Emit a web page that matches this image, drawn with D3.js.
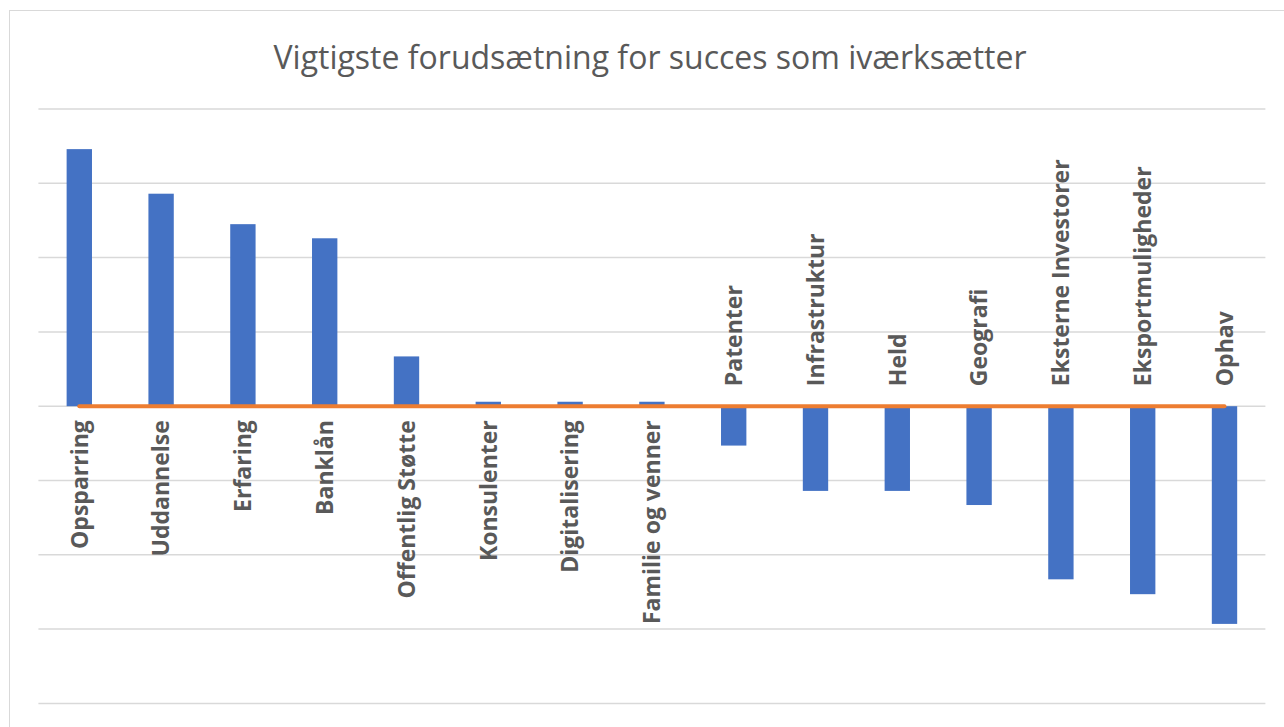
<!DOCTYPE html>
<html>
<head>
<meta charset="utf-8">
<script src="https://cdnjs.cloudflare.com/ajax/libs/d3/7.8.5/d3.min.js"></script>
<style>
  body { margin: 0; background: #fff; }
  svg { display: block; }
</style>
</head>
<body>
<svg id="chart" width="1284" height="727"></svg>
<script>
// data (units = gridline steps)
var categories = ['Opsparring', 'Uddannelse', 'Erfaring', 'Banklån', 'Offentlig Støtte',
  'Konsulenter', 'Digitalisering', 'Familie og venner', 'Patenter', 'Infrastruktur',
  'Held', 'Geografi', 'Eksterne Investorer', 'Eksportmuligheder', 'Ophav'];
var values = [3.46, 2.86, 2.45, 2.26, 0.67, 0.06, 0.06, 0.06, -0.53, -1.14, -1.14, -1.33, -2.33, -2.53, -2.93];
var baseline = [0, 0, 0, 0, 0, 0, 0, 0, 0, 0, 0, 0, 0, 0, 0];
var gridTicks = [4, 3, 2, 1, 0, -1, -2, -3, -4];
var title = 'Vigtigste forudsætning for succes som iværksætter';

var svg = d3.select('#chart');
var barColor = '#4472C4', lineColor = '#ED7D31', textColor = '#595959', gridColor = '#d9d9d9';

// chart frame
svg.append('rect')
  .attr('x', 9.5).attr('y', 10.5)
  .attr('width', 1300).attr('height', 740)
  .attr('fill', '#fff').attr('stroke', gridColor).attr('stroke-width', 1);

var x = d3.scaleBand().domain(categories).range([38.4, 1265.4]).paddingInner(0.69).paddingOuter(0.345);
var y = d3.scaleLinear().domain([-4, 4]).range([703.4, 109]);

// gridlines
svg.append('g').attr('class', 'grid')
  .selectAll('line').data(gridTicks).enter()
  .append('line')
  .attr('x1', 38.4).attr('x2', 1265.4)
  .attr('y1', function(d) { return y(d); })
  .attr('y2', function(d) { return y(d); })
  .attr('stroke', gridColor).attr('stroke-width', 1.5);

// title
svg.append('text')
  .attr('x', 650).attr('y', 69)
  .attr('text-anchor', 'middle')
  .attr('fill', textColor)
  .attr('style', 'font-family: "Open Sans"; font-size: 32px;')
  .text(title);

// bars
svg.append('g').attr('class', 'bars')
  .selectAll('rect').data(values).enter()
  .append('rect')
  .attr('x', function(d, i) { return x(categories[i]); })
  .attr('width', x.bandwidth())
  .attr('y', function(d) { return y(Math.max(0, d)); })
  .attr('height', function(d) { return Math.abs(y(d) - y(0)); })
  .attr('fill', barColor);

// zero line series
var line = d3.line()
  .x(function(d, i) { return x(categories[i]) + x.bandwidth() / 2; })
  .y(function(d) { return y(d); });

svg.append('path')
  .datum(baseline)
  .attr('d', line)
  .attr('fill', 'none')
  .attr('stroke', lineColor)
  .attr('stroke-width', 4)
  .attr('stroke-linecap', 'round');

// category labels, rotated, placed on the opposite side of the bar
svg.append('g').attr('class', 'labels')
  .selectAll('text').data(categories).enter()
  .append('text')
  .attr('transform', function(d, i) {
    var cx = x(d) + x.bandwidth() / 2;
    var cy = values[i] >= 0 ? y(0) + 14 : y(0) - 20;
    return 'translate(' + cx + ',' + cy + ') rotate(-90)';
  })
  .attr('dy', '0.36em')
  .attr('text-anchor', function(d, i) { return values[i] >= 0 ? 'end' : 'start'; })
  .attr('fill', textColor)
  .attr('style', 'font-family: "Open Sans"; font-size: 23px; font-weight: bold;')
  .text(function(d) { return d; });
</script>
</body>
</html>
